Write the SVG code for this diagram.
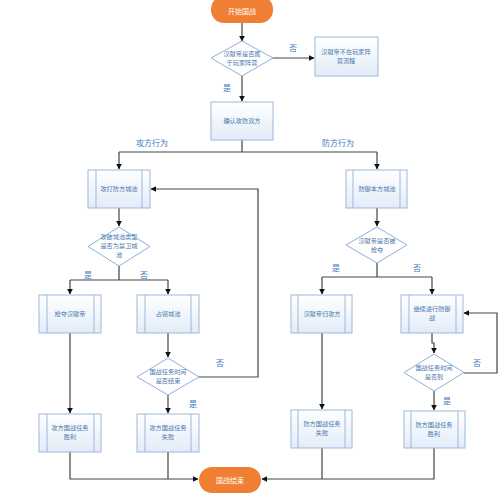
<svg xmlns="http://www.w3.org/2000/svg" width="500" height="495" viewBox="0 0 500 495">
<defs>
<linearGradient id="bg" x1="0" y1="0" x2="0" y2="1">
<stop offset="0" stop-color="#ffffff"/>
<stop offset="1" stop-color="#e2ecf8"/>
</linearGradient>
<marker id="ar" viewBox="0 0 10 10" refX="9" refY="5" markerWidth="6" markerHeight="6" orient="auto-start-reverse" markerUnits="userSpaceOnUse">
<path d="M0,0 L10,5 L0,10 z" fill="#111"/>
</marker>
</defs>
<style>
.box{fill:url(#bg);stroke:#9db8dc;stroke-width:1}
.inner{stroke:#9db8dc;stroke-width:1}
.dia{fill:#ffffff;stroke:#8fb0d8;stroke-width:1}
.term{fill:#ef7f33;stroke:none}
.t{font-family:"Noto Sans CJK SC","Liberation Sans",sans-serif;font-size:6.2px;fill:#4a78ad;text-anchor:middle}
.tw{font-family:"Noto Sans CJK SC","Liberation Sans",sans-serif;font-size:7px;fill:#ffffff;text-anchor:middle}
.lb{font-family:"Noto Sans CJK SC","Liberation Sans",sans-serif;font-size:8px;fill:#3d7bbb;text-anchor:middle}
.c{fill:none;stroke:#444;stroke-width:1.2}
.ca{fill:none;stroke:#444;stroke-width:1.2;marker-end:url(#ar)}
</style>
<rect width="500" height="495" fill="#ffffff"/>

<g id="connectors">
<path class="ca" d="M242,23 V41"/>
<path class="ca" d="M273,58 H314"/>
<path class="ca" d="M242,76 V101"/>
<path class="c" d="M242,140 V152 M119,152 H377"/>
<path class="ca" d="M119,152 V169"/>
<path class="ca" d="M377,152 V169"/>
<path class="ca" d="M119,208 V226"/>
<path class="c" d="M119,266 V280 M70,280 H168"/>
<path class="ca" d="M70,280 V294"/>
<path class="ca" d="M168,280 V294"/>
<path class="ca" d="M377,208 V226"/>
<path class="c" d="M377,263 V277 M322,277 H432"/>
<path class="ca" d="M322,277 V294"/>
<path class="ca" d="M432,277 V294"/>
<path class="ca" d="M70,333 V413"/>
<path class="ca" d="M168,333 V357"/>
<path class="ca" d="M168,395 V413"/>
<path class="ca" d="M199,377 H258 V189 H151"/>
<path class="ca" d="M322,333 V409"/>
<path class="ca" d="M432,333 V343 H434 V353"/>
<path class="ca" d="M464,373 H497 V313 H464"/>
<path class="ca" d="M434,391 V410"/>
<path class="c" d="M168,452 V479"/>
<path class="ca" d="M70,452 V479 H198"/>
<path class="c" d="M322,448 V479"/>
<path class="ca" d="M434,448 V479 H262"/>
</g>

<g id="labels">
<text class="lb" x="293" y="51">否</text>
<text class="lb" x="227" y="91">是</text>
<text class="lb" x="152" y="146">攻方行为</text>
<text class="lb" x="338" y="146">防方行为</text>
<text class="lb" x="88" y="278">是</text>
<text class="lb" x="144" y="278">否</text>
<text class="lb" x="336" y="271">是</text>
<text class="lb" x="417" y="271">否</text>
<text class="lb" x="220" y="366">否</text>
<text class="lb" x="193" y="407">是</text>
<text class="lb" x="477" y="366">否</text>
<text class="lb" x="447" y="404">是</text>
</g>

<g id="start">
<rect class="term" x="211" y="-4" width="62" height="27" rx="13"/>
<text class="tw" x="242" y="14">开始国战</text>
</g>

<g id="d1">
<polygon class="dia" points="242,41 273,58 242,76 211,58"/>
<text class="t" x="242" y="56">汉献帝是否属</text>
<text class="t" x="242" y="65">于玩家阵营</text>
</g>

<g id="notplayer">
<rect class="box" x="315" y="37" width="63" height="39"/>
<text class="t" x="346" y="54">汉献帝不在玩家阵</text>
<text class="t" x="346" y="63">营流程</text>
</g>

<g id="confirm">
<rect class="box" x="211" y="102" width="62" height="38"/>
<text class="t" x="242" y="123">确认攻防双方</text>
</g>

<g id="attack">
<rect class="box" x="88" y="170" width="62" height="38"/>
<line class="inner" x1="96" y1="170" x2="96" y2="208"/>
<line class="inner" x1="142" y1="170" x2="142" y2="208"/>
<text class="t" x="119" y="191">攻打防方城池</text>
</g>

<g id="d2">
<polygon class="dia" points="119,227 150,246.5 119,266 88,246.5"/>
<text class="t" x="119" y="239">攻破城池类型</text>
<text class="t" x="119" y="248">是否为禁卫城</text>
<text class="t" x="119" y="257">池</text>
</g>

<g id="defend">
<rect class="box" x="346" y="170" width="61" height="38"/>
<line class="inner" x1="353" y1="170" x2="353" y2="208"/>
<line class="inner" x1="400" y1="170" x2="400" y2="208"/>
<text class="t" x="377" y="191">防御本方城池</text>
</g>

<g id="d3">
<polygon class="dia" points="377,227 407,245 377,263 346,245"/>
<text class="t" x="377" y="243">汉献帝是否被</text>
<text class="t" x="377" y="252">抢夺</text>
</g>

<g id="seize">
<rect class="box" x="39" y="295" width="62" height="38"/>
<line class="inner" x1="47" y1="295" x2="47" y2="333"/>
<line class="inner" x1="94" y1="295" x2="94" y2="333"/>
<text class="t" x="70" y="316">抢夺汉献帝</text>
</g>

<g id="occupy">
<rect class="box" x="137" y="295" width="62" height="38"/>
<line class="inner" x1="145" y1="295" x2="145" y2="333"/>
<line class="inner" x1="191" y1="295" x2="191" y2="333"/>
<text class="t" x="168" y="316">占领城池</text>
</g>

<g id="d4">
<polygon class="dia" points="168,358 199,377 168,395 137,377"/>
<text class="t" x="168" y="374">国战任务时间</text>
<text class="t" x="168" y="383">是否结束</text>
</g>

<g id="atkwin">
<rect class="box" x="39" y="414" width="62" height="38"/>
<line class="inner" x1="47" y1="414" x2="47" y2="452"/>
<line class="inner" x1="94" y1="414" x2="94" y2="452"/>
<text class="t" x="70" y="430">攻方国战任务</text>
<text class="t" x="70" y="439">胜利</text>
</g>

<g id="atkfail">
<rect class="box" x="137" y="414" width="62" height="38"/>
<line class="inner" x1="145" y1="414" x2="145" y2="452"/>
<line class="inner" x1="191" y1="414" x2="191" y2="452"/>
<text class="t" x="168" y="430">攻方国战任务</text>
<text class="t" x="168" y="439">失败</text>
</g>

<g id="toattacker">
<rect class="box" x="291" y="295" width="61" height="38"/>
<line class="inner" x1="298" y1="295" x2="298" y2="333"/>
<line class="inner" x1="345" y1="295" x2="345" y2="333"/>
<text class="t" x="322" y="316">汉献帝归攻方</text>
</g>

<g id="continue">
<rect class="box" x="401" y="295" width="62" height="38"/>
<line class="inner" x1="409" y1="295" x2="409" y2="333"/>
<line class="inner" x1="456" y1="295" x2="456" y2="333"/>
<text class="t" x="432" y="311">继续进行防御</text>
<text class="t" x="432" y="320">战</text>
</g>

<g id="d5">
<polygon class="dia" points="434,354 464,372.5 434,391 404,372.5"/>
<text class="t" x="434" y="370">国战任务时间</text>
<text class="t" x="434" y="379">是否到</text>
</g>

<g id="deffail">
<rect class="box" x="291" y="410" width="61" height="38"/>
<line class="inner" x1="298" y1="410" x2="298" y2="448"/>
<line class="inner" x1="345" y1="410" x2="345" y2="448"/>
<text class="t" x="322" y="426">防方国战任务</text>
<text class="t" x="322" y="435">失败</text>
</g>

<g id="defwin">
<rect class="box" x="404" y="411" width="61" height="37"/>
<line class="inner" x1="411" y1="411" x2="411" y2="448"/>
<line class="inner" x1="458" y1="411" x2="458" y2="448"/>
<text class="t" x="434" y="427">防方国战任务</text>
<text class="t" x="434" y="436">胜利</text>
</g>

<g id="end">
<rect class="term" x="199" y="467" width="62" height="26" rx="13"/>
<text class="tw" x="230" y="483">国战结束</text>
</g>
</svg>
